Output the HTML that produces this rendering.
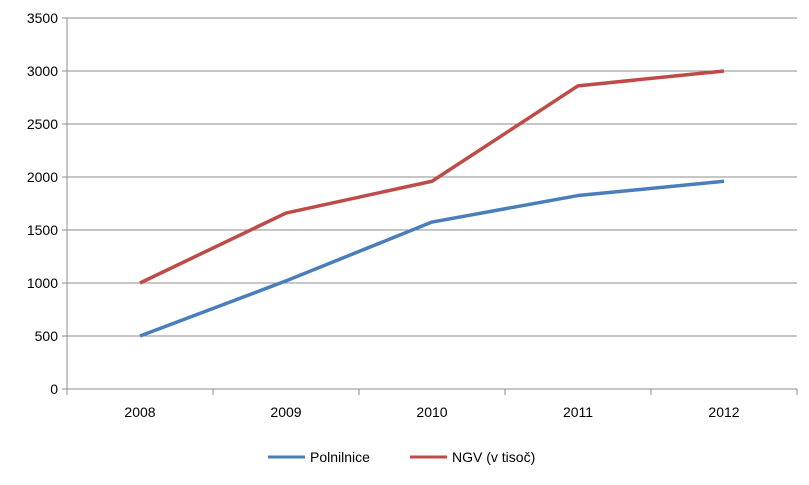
<!DOCTYPE html>
<html><head><meta charset="utf-8"><style>
html,body{margin:0;padding:0;background:#fff;}
svg text{font-family:"Liberation Sans",sans-serif;font-size:14px;fill:#000;}
</style></head><body>
<svg id="chart" width="809" height="480" viewBox="0 0 809 480" xmlns="http://www.w3.org/2000/svg">
<g id="grid"></g>
<g id="axes"></g>
<g id="series"></g>
<g>
<line x1="268" y1="457" x2="305" y2="457" stroke="#4a7ebb" stroke-width="3"/>
<text x="310" y="462">Polnilnice</text>
<line x1="410" y1="457" x2="447" y2="457" stroke="#be4b48" stroke-width="3"/>
<text x="452" y="462">NGV (v tisoč)</text>
</g>
</svg>
<script>
const categories = ["2008","2009","2010","2011","2012"];
const polnilnice = [500, 1020, 1575, 1825, 1960];
const ngv = [1000, 1660, 1960, 2860, 3000];
const yTicks = [0,500,1000,1500,2000,2500,3000,3500];

const NS="http://www.w3.org/2000/svg";
const plotLeft=67,plotRight=797,plotTop=18,plotBottom=389,yMax=3500;
const bw=(plotRight-plotLeft)/categories.length;
function xPos(i){return plotLeft+bw*(i+0.5);}
function yPos(v){return plotBottom-(v/yMax)*(plotBottom-plotTop);}
function mk(tag,attrs,parent){const e=document.createElementNS(NS,tag);for(const k in attrs)e.setAttribute(k,attrs[k]);parent.appendChild(e);return e;}
const grid=document.getElementById('grid'),axes=document.getElementById('axes'),series=document.getElementById('series');
yTicks.forEach(t=>{
  if(t>0){const g=mk('line',{x1:plotLeft,x2:plotRight,y1:yPos(t),y2:yPos(t),stroke:'#8c8c8c','stroke-width':1},grid);
  
  }
  const tk=mk('line',{x1:plotLeft-5,x2:plotLeft,y1:yPos(t),y2:yPos(t),stroke:'#8c8c8c'},axes);
  
  
  const lb=mk('text',{x:plotLeft-9,y:yPos(t)+5,'text-anchor':'end'},axes);lb.textContent=t;
  
  
});
const ya=mk('line',{x1:plotLeft,x2:plotLeft,y1:plotTop,y2:plotBottom,stroke:'#8c8c8c'},axes);


const xa=mk('line',{x1:plotLeft,x2:plotRight,y1:plotBottom,y2:plotBottom,stroke:'#8c8c8c'},axes);


for(let i=0;i<=categories.length;i++){
  const t=mk('line',{x1:plotLeft+bw*i,x2:plotLeft+bw*i,y1:plotBottom,y2:plotBottom+6,stroke:'#8c8c8c'},axes);
  
  
}
categories.forEach((c,i)=>{
  const l=mk('text',{x:xPos(i),y:plotBottom+28,'text-anchor':'middle'},axes);l.textContent=c;
  
  
});
function drawLine(vals,color,name){
  const p=mk('polyline',{points:vals.map((v,i)=>xPos(i)+','+yPos(v)).join(' '),fill:'none',stroke:color,'stroke-width':3.5,'stroke-linejoin':'round'},series);
  
  
}
drawLine(polnilnice,'#4a7ebb','polnilnice-line');
drawLine(ngv,'#be4b48','ngv-line');
</script>
</body></html>
